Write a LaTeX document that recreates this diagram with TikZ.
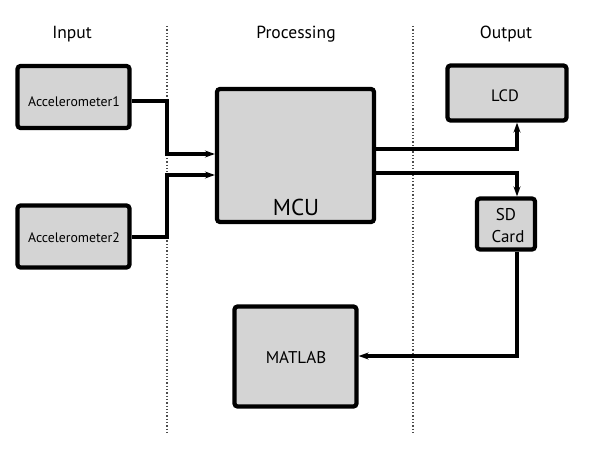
\documentclass[tikz,border=0pt]{standalone}
\usepackage{fontspec}
\setmainfont{PT Sans}
\usetikzlibrary{arrows.meta,calc}
\definecolor{boxgray}{RGB}{212,212,212}
\begin{document}
\begin{tikzpicture}[x=1pt,y=-1pt,
  blk/.style={draw=black,fill=boxgray,line width=4.2pt,rounded corners=3pt,inner sep=0pt},
  conn/.style={line width=3.3pt},
  arr/.style={conn,-{Stealth[length=10pt,width=7pt]}},
  sep/.style={dotted,line width=1.3pt,gray!60!black},
  txt/.style={anchor=base,inner sep=0pt},
  head/.style={txt,font=\fontsize{17.5}{20}\selectfont}]
\useasboundingbox (0,0) rectangle (589,457);
% separators
\draw[sep] (167,26) -- (167,432);
\draw[sep] (413,26) -- (413,432);
% headers
\node[head] (hin) at (72,39) {Input};
\node[head] (hproc) at (296,39) {Processing};
\node[head] (hout) at (506,39) {Output};
% blocks
\node[blk,minimum width=112pt,minimum height=62pt] (acc1) at (73.5,97) {};
\node[blk,minimum width=112pt,minimum height=62pt] (acc2) at (73.5,236.5) {};
\node[blk,minimum width=157pt,minimum height=133pt] (mcu) at (295.5,155.5) {};
\node[blk,minimum width=119pt,minimum height=55pt] (lcd) at (507,93) {};
\node[blk,minimum width=58pt,minimum height=51pt] (sd) at (506,224) {};
\node[blk,minimum width=122pt,minimum height=100pt] (mat) at (295.5,356.5) {};
% labels
\node[txt,font=\fontsize{13.8}{16}\selectfont] (acc1l) at (74,106.5) {Accelerometer1};
\node[txt,font=\fontsize{13.8}{16}\selectfont] (acc2l) at (74,242.5) {Accelerometer2};
\node[txt,font=\fontsize{23}{26}\selectfont] (mcul) at (296,215) {MCU};
\node[txt,font=\fontsize{16.5}{19}\selectfont] (lcdl) at (505,102) {LCD};
\node[txt,font=\fontsize{17}{20}\selectfont] (sdl1) at (506,221) {SD};
\node[txt,font=\fontsize{17}{20}\selectfont] (sdl2) at (508,243) {Card};
\node[txt,font=\fontsize{17}{20}\selectfont] (matl) at (296,363) {MATLAB};
% connectors
\coordinate (j1) at (167,101);
\coordinate (j2) at (167,237);
\coordinate (m1) at ($(mcu.west)+(0,-1.5)$);
\coordinate (m2) at ($(mcu.west)+(0,19.5)$);
\draw[arr] (acc1.east |- j1) -- (j1) |- (m1);
\draw[arr] (acc2.east |- j2) -- (j2) |- (m2);
\coordinate (o1) at (mcu.east |- 0,149);
\coordinate (o2) at (mcu.east |- 0,173);
\draw[arr] (o1) -| (lcd.south -| 517,0);
\draw[arr] (o2) -| (sd.north -| 517,0);
\coordinate (s1) at (517,356);
\draw[arr] (sd.south -| s1) -- (s1) -- (mat.east |- s1);
\end{tikzpicture}
\end{document}
